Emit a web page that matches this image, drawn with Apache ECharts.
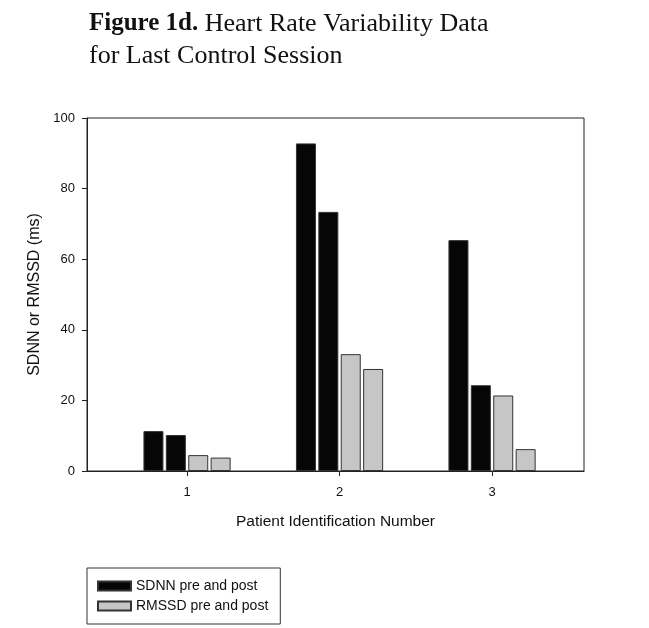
<!DOCTYPE html>
<html>
<head>
<meta charset="utf-8">
<script src="https://cdn.jsdelivr.net/npm/echarts@6/dist/echarts.min.js"></script>
<style>
  html, body { margin: 0; padding: 0; background: #fff; }
  #chart { width: 649px; height: 628px; }
</style>
</head>
<body>
<div id="chart"></div>
<script>
// patient ids on the x axis
var patients = [1, 2, 3];
// SDNN (black) and RMSSD (gray), pre and post
var sdnnPre = [11.3, 92.8, 65.4];
var sdnnPost = [10.2, 73.4, 24.3];
var rmssdPre = [4.5, 33.1, 21.4];
var rmssdPost = [3.8, 28.9, 6.2];
var yTicks = [0, 20, 40, 60, 80, 100];

var SDNN = 'SDNN pre and post';
var RMSSD = 'RMSSD pre and post';

function pairs(vals) {
    return vals.map(function (v, i) { return [patients[i], v]; });
}

function barSeries(name, vals, color) {
    return {
        name: name,
        type: 'bar',
        barWidth: 20,
        barGap: '12%',
        data: pairs(vals),
        itemStyle: {
            color: color,
            borderColor: '#333',
            borderWidth: 1
        }
    };
}

var chart = echarts.init(document.getElementById('chart'));
chart.setOption({
    animation: false,
    backgroundColor: '#fff',
    title: {
        left: 89,
        top: 8,
        padding: 0,
        text: '{b|Figure 1d.} Heart Rate Variability Data\nfor Last Control Session',
        textStyle: {
            fontFamily: 'Liberation Serif',
            fontSize: 26,
            fontWeight: 'normal',
            color: '#111',
            lineHeight: 32,
            rich: {
                b: { fontFamily: 'Liberation Serif', fontSize: 25, fontWeight: 'bold', color: '#111', lineHeight: 32 }
            }
        }
    },
    legend: {
        orient: 'vertical',
        left: 87,
        top: 568,
        padding: [11, 12, 11, 10],
        itemGap: 6,
        itemWidth: 33,
        itemHeight: 9,
        icon: 'rect',
        borderColor: '#333',
        borderWidth: 1,
        data: [SDNN, RMSSD],
        textStyle: { fontFamily: 'Liberation Sans', fontSize: 14, color: '#111' }
    },
    grid: {
        left: 87,
        top: 118,
        right: 65,
        bottom: 157,
        show: true,
        borderColor: '#222',
        borderWidth: 1
    },
    xAxis: {
        type: 'value',
        min: 0.344,
        max: 3.603,
        name: 'Patient Identification Number',
        nameLocation: 'middle',
        nameGap: 43,
        nameTextStyle: { fontFamily: 'Liberation Sans', fontSize: 15.5, color: '#111' },
        axisLine: { show: true, lineStyle: { color: '#222', width: 1 } },
        axisTick: { show: true, length: 5, customValues: patients, lineStyle: { color: '#222' } },
        axisLabel: { customValues: patients, margin: 15, fontFamily: 'Liberation Sans', fontSize: 13, color: '#111' },
        splitLine: { show: false }
    },
    yAxis: {
        type: 'value',
        min: 0,
        max: 100,
        interval: 20,
        name: 'SDNN or RMSSD (ms)',
        nameLocation: 'middle',
        nameGap: 40,
        nameTextStyle: { fontFamily: 'Liberation Sans', fontSize: 16, color: '#111' },
        axisLine: { show: true, lineStyle: { color: '#222', width: 1 } },
        axisTick: { show: true, length: 5, lineStyle: { color: '#222' } },
        axisLabel: {
            margin: 12,
            fontFamily: 'Liberation Sans',
            fontSize: 13,
            color: '#111',
            formatter: function (v) { return yTicks.indexOf(v) >= 0 ? String(v) : ''; }
        },
        splitLine: { show: false }
    },
    series: [
        barSeries(SDNN, sdnnPre, '#060606'),
        barSeries(SDNN, sdnnPost, '#060606'),
        barSeries(RMSSD, rmssdPre, '#c6c6c6'),
        barSeries(RMSSD, rmssdPost, '#c6c6c6')
    ]
});
</script>
</body>
</html>
